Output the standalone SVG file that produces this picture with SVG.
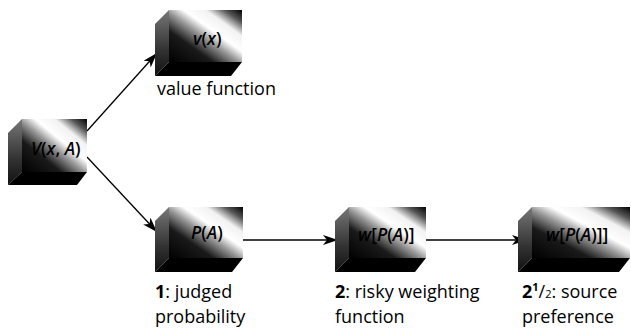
<svg xmlns="http://www.w3.org/2000/svg" width="631" height="331" viewBox="0 0 631 331">
<style>
.face{fill:url(#faceGrad)}
.side{fill:url(#sideGrad)}
.bottom{fill:#000}
.math{font-family:"Open Sans","Noto Sans",sans-serif;font-size:17.5px;font-weight:600;fill:#000}
.it{font-style:italic}
.lbl{font-family:"Open Sans","Noto Sans",sans-serif;font-size:18px;fill:#000}
.b{font-weight:bold}
.conn{stroke:#000;stroke-width:1.3;fill:none;marker-end:url(#arr)}
</style>
<defs>
<linearGradient id="faceGrad" x1="0" y1="1" x2="1" y2="0">
<stop offset="0" stop-color="#000"/>
<stop offset="0.3" stop-color="#1a1a1a"/>
<stop offset="0.48" stop-color="#999"/>
<stop offset="0.6" stop-color="#fff"/>
<stop offset="0.75" stop-color="#f2f2f2"/>
<stop offset="0.88" stop-color="#555"/>
<stop offset="1" stop-color="#000"/>
</linearGradient>
<linearGradient id="sideGrad" x1="0" y1="0" x2="0" y2="1">
<stop offset="0" stop-color="#777"/>
<stop offset="0.6" stop-color="#333"/>
<stop offset="1" stop-color="#111"/>
</linearGradient>
<marker id="arr" markerUnits="userSpaceOnUse" markerWidth="16" markerHeight="12" refX="15" refY="5" orient="auto">
<path d="M0,0 L15,5 L0,10 L4,5 Z" fill="#000"/>
</marker>
</defs>
<g id="connectors">
<line class="conn" x1="87" y1="131" x2="157" y2="53"/>
<line class="conn" x1="87" y1="157" x2="157" y2="232"/>
<line class="conn" x1="243" y1="240" x2="338" y2="240"/>
<line class="conn" x1="426" y1="240" x2="527" y2="240"/>
</g>
<g id="node-VxA">
<polygon class="side" points="22,119 8,133 8,185 22,172"/>
<polygon class="bottom" points="8,185 22,172 87,172 77,185"/>
<rect class="face" x="22" y="119" width="65" height="53"/>
<text class="math" x="31" y="155"><tspan class="it">V</tspan>(<tspan class="it">x</tspan>, <tspan class="it">A</tspan>)</text>
</g>
<g id="node-vx">
<polygon class="side" points="169,10 155,24 155,76 169,62"/>
<polygon class="bottom" points="155,76 169,62 242,62 231,76"/>
<rect class="face" x="169" y="10" width="73" height="52"/>
<text class="math" x="193" y="45"><tspan class="it">v</tspan>(<tspan class="it">x</tspan>)</text>
<text class="lbl" x="157" y="95">value function</text>
</g>
<g id="node-PA">
<polygon class="side" points="169,207 155,221 155,272 169,258"/>
<polygon class="bottom" points="155,272 169,258 243,258 232,272"/>
<rect class="face" x="169" y="207" width="74" height="51"/>
<text class="math" x="191" y="239"><tspan class="it">P</tspan>(<tspan class="it">A</tspan>)</text>
<text class="lbl" x="155" y="298"><tspan class="b">1</tspan>: judged</text>
<text class="lbl" x="155" y="323">probability</text>
</g>
<g id="node-wPA">
<polygon class="side" points="349,207 335,221 335,272 349,258"/>
<polygon class="bottom" points="335,272 349,258 426,258 415,272"/>
<rect class="face" x="349" y="207" width="77" height="51"/>
<text class="math" x="358" y="241"><tspan class="it">w</tspan>[<tspan class="it">P</tspan>(<tspan class="it">A</tspan>)]</text>
<text class="lbl" x="335" y="298"><tspan class="b">2</tspan>: risky weighting</text>
<text class="lbl" x="335" y="323">function</text>
</g>
<g id="node-WwPA">
<polygon class="side" points="532,207 518,221 518,272 532,258"/>
<polygon class="bottom" points="518,272 532,258 630,258 619,272"/>
<rect class="face" x="532" y="207" width="98" height="51"/>
<text class="math" x="546" y="241"><tspan class="it">w</tspan>[<tspan class="it">P</tspan>(<tspan class="it">A</tspan>)]]</text>
<text class="lbl" x="522" y="298"><tspan class="b">2</tspan><tspan class="b" font-size="11" dy="-7">1</tspan><tspan dy="7">/</tspan><tspan font-size="11">2</tspan>: source</text>
<text class="lbl" x="522" y="323">preference</text>
</g>
</svg>
